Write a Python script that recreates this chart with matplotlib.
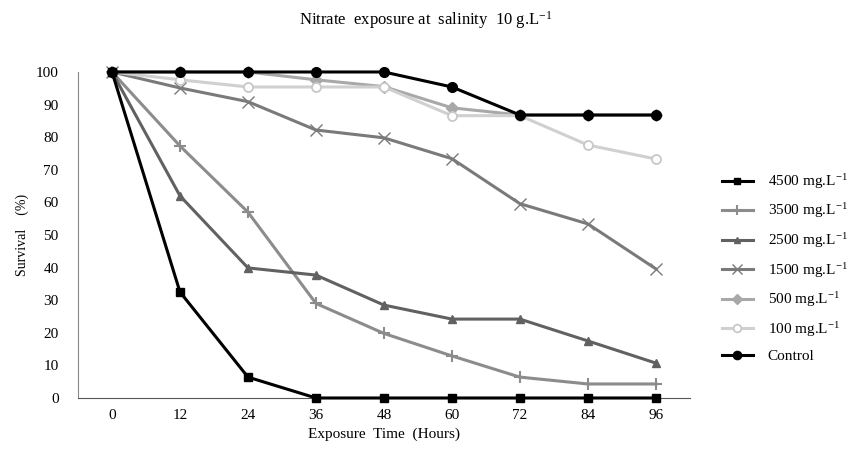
import matplotlib.pyplot as plt

# Exposure time (hours) and survival (%) for each nitrate level
hours = [0, 12, 24, 36, 48, 60, 72, 84, 96]
s4500 = [100, 32.5, 6.4, 0, 0, 0, 0, 0, 0]
s3500 = [100, 77.3, 57, 29, 19.8, 12.9, 6.4, 4.3, 4.3]
s2500 = [100, 62, 39.9, 37.7, 28.5, 24.2, 24.2, 17.5, 10.7]
s1500 = [100, 95.1, 90.9, 82.2, 79.8, 73.4, 59.6, 53.4, 39.6]
s500 = [100, 100, 100, 97.6, 95.5, 89, 86.8, 86.8, 86.8]
s100 = [100, 97.6, 95.4, 95.4, 95.4, 86.6, 86.6, 77.6, 73.3]
control = [100, 100, 100, 100, 100, 95.4, 86.8, 86.8, 86.8]
labels = ['4500 mg.L$^{-1}$', '3500 mg.L$^{-1}$', '2500 mg.L$^{-1}$',
          '1500 mg.L$^{-1}$', '500 mg.L$^{-1}$', '100 mg.L$^{-1}$', 'Control']

plt.rcParams['font.family'] = ['Liberation Serif', 'DejaVu Serif']
plt.rcParams['mathtext.fontset'] = 'custom'
plt.rcParams['mathtext.rm'] = 'Liberation Serif'
plt.rcParams['mathtext.it'] = 'Liberation Serif'

fig = plt.figure(figsize=(8.63, 4.55), dpi=100)
ax = fig.add_axes([0.0904, 0.1253, 0.709, 0.7165])

lw = 2.2
ax.plot(hours, s4500, color='black', lw=lw, marker='s', ms=5.5, label=labels[0], clip_on=False, zorder=5)
ax.plot(hours, s3500, color='#8c8c8c', lw=lw, marker='+', ms=8, mew=1.5, label=labels[1], clip_on=False, zorder=3)
ax.plot(hours, s2500, color='#616161', lw=lw, marker='^', ms=5.5, label=labels[2], clip_on=False, zorder=3)
ax.plot(hours, s1500, color='#7a7a7a', lw=lw, marker='x', ms=8, mew=1.0, label=labels[3], clip_on=False, zorder=3)
ax.plot(hours, s500, color='#a8a8a8', lw=lw, marker='D', ms=6, label=labels[4], clip_on=False, zorder=3)
ax.plot(hours, s100, color='#d0d0d0', lw=lw, marker='o', ms=6.5, mfc='white', mec='#c8c8c8', mew=1.3,
        label=labels[5], clip_on=False, zorder=4)
ax.plot(hours, control, color='black', lw=lw, marker='o', ms=7, label=labels[6], clip_on=False, zorder=6)

ax.set_xlim(-6, 102)
ax.set_ylim(0, 100)
ax.set_xticks(hours)
ax.set_yticks(range(0, 101, 10))
ax.tick_params(length=0, labelsize=11, pad=8)
ax.tick_params(axis='y', pad=14)
for s in ['top', 'right']:
    ax.spines[s].set_visible(False)
ax.spines['left'].set_color('#888888')
ax.spines['bottom'].set_color('#555555')

ax.set_xlabel('Exposure  Time  (Hours)', fontsize=11, labelpad=4)
ax.set_ylabel('Survival    (%)', fontsize=10, labelpad=5)
fig.text(0.493, 0.955, 'Nitrate  exposure at  salinity  10 g.L$^{-1}$', ha='center', va='center', fontsize=12)

ax.legend(loc='center left', bbox_to_anchor=(1.03, 0.40), frameon=False, fontsize=11,
          handlelength=2.0, labelspacing=0.7, handletextpad=1.0, markerscale=0.85)

plt.savefig('out.png', dpi=100)
